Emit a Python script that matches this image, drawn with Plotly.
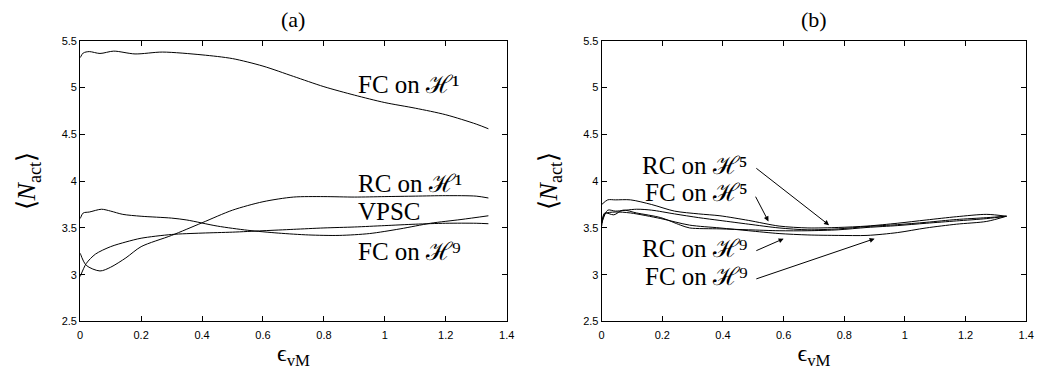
import plotly.graph_objects as go

# ---------------- Data ----------------
# Panel (a)
a_fc_h1_x = [0, 0.01, 0.03, 0.065, 0.11, 0.18, 0.27, 0.4, 0.5, 0.6, 0.7, 0.8, 0.9, 1.0, 1.1, 1.2, 1.3, 1.34]
a_fc_h1_y = [5.32, 5.37, 5.385, 5.365, 5.39, 5.36, 5.38, 5.35, 5.31, 5.23, 5.12, 5.01, 4.92, 4.84, 4.78, 4.71, 4.61, 4.56]

a_rc_h1_x = [0, 0.02, 0.065, 0.1, 0.15, 0.2, 0.3, 0.4, 0.5, 0.6, 0.7, 0.8, 0.9, 1.0, 1.1, 1.2, 1.3, 1.34]
a_rc_h1_y = [3.23, 3.10, 3.04, 3.08, 3.18, 3.30, 3.42, 3.555, 3.69, 3.78, 3.83, 3.835, 3.83, 3.835, 3.84, 3.845, 3.84, 3.82]

a_vpsc_x = [0, 0.02, 0.05, 0.1, 0.15, 0.2, 0.3, 0.4, 0.5, 0.6, 0.7, 0.8, 0.9, 1.0, 1.1, 1.2, 1.3, 1.34]
a_vpsc_y = [2.98, 3.12, 3.22, 3.30, 3.35, 3.39, 3.43, 3.445, 3.455, 3.47, 3.485, 3.50, 3.51, 3.525, 3.54, 3.55, 3.55, 3.545]

a_fc_h9_x = [0, 0.01, 0.03, 0.07, 0.1, 0.14, 0.2, 0.3, 0.35, 0.45, 0.55, 0.65, 0.75, 0.85, 0.95, 1.05, 1.15, 1.25, 1.34]
a_fc_h9_y = [3.60, 3.66, 3.67, 3.70, 3.68, 3.645, 3.625, 3.605, 3.585, 3.52, 3.475, 3.445, 3.425, 3.42, 3.44, 3.49, 3.55, 3.59, 3.63]

# Panel (b)
b_rc_h5_x = [0, 0.02, 0.045, 0.095, 0.165, 0.24, 0.32, 0.39, 0.485, 0.585, 0.68, 0.78, 0.875, 0.975, 1.07, 1.17, 1.27, 1.335]
b_rc_h5_y = [3.75, 3.80, 3.80, 3.80, 3.75, 3.68, 3.65, 3.63, 3.58, 3.52, 3.50, 3.505, 3.52, 3.55, 3.585, 3.62, 3.645, 3.625]

b_fc_h5_x = [0, 0.02, 0.045, 0.115, 0.165, 0.24, 0.32, 0.39, 0.485, 0.585, 0.68, 0.78, 0.875, 0.975, 1.07, 1.17, 1.27, 1.335]
b_fc_h5_y = [3.55, 3.69, 3.68, 3.70, 3.69, 3.65, 3.61, 3.58, 3.54, 3.50, 3.48, 3.49, 3.515, 3.535, 3.56, 3.59, 3.61, 3.625]

b_rc_h9_x = [0, 0.01, 0.04, 0.07, 0.115, 0.195, 0.26, 0.29, 0.39, 0.485, 0.585, 0.68, 0.78, 0.875, 0.975, 1.07, 1.17, 1.27, 1.335]
b_rc_h9_y = [3.55, 3.66, 3.64, 3.69, 3.66, 3.61, 3.53, 3.50, 3.49, 3.48, 3.47, 3.47, 3.48, 3.505, 3.525, 3.55, 3.575, 3.60, 3.625]

b_fc_h9_x = [0, 0.01, 0.045, 0.095, 0.195, 0.29, 0.39, 0.485, 0.585, 0.68, 0.78, 0.875, 0.975, 1.07, 1.17, 1.27, 1.335]
b_fc_h9_y = [3.52, 3.65, 3.67, 3.66, 3.60, 3.53, 3.50, 3.47, 3.44, 3.425, 3.42, 3.42, 3.45, 3.50, 3.54, 3.57, 3.625]

x_ticks = [0, 0.2, 0.4, 0.6, 0.8, 1, 1.2, 1.4]
x_tick_text = ["0", "0.2", "0.4", "0.6", "0.8", "1", "1.2", "1.4"]
y_ticks = [2.5, 3, 3.5, 4, 4.5, 5, 5.5]
y_tick_text = ["2.5", "3", "3.5", "4", "4.5", "5", "5.5"]

# ---------------- Figure ----------------
fig = go.Figure()
line = dict(color="black", width=1, shape="spline", smoothing=0.8)

for xs, ys in [(a_fc_h1_x, a_fc_h1_y), (a_rc_h1_x, a_rc_h1_y), (a_vpsc_x, a_vpsc_y), (a_fc_h9_x, a_fc_h9_y)]:
    fig.add_trace(go.Scatter(x=xs, y=ys, mode="lines", line=line, xaxis="x", yaxis="y", showlegend=False, hoverinfo="skip"))
for xs, ys in [(b_rc_h5_x, b_rc_h5_y), (b_fc_h5_x, b_fc_h5_y), (b_rc_h9_x, b_rc_h9_y), (b_fc_h9_x, b_fc_h9_y)]:
    fig.add_trace(go.Scatter(x=xs, y=ys, mode="lines", line=line, xaxis="x2", yaxis="y2", showlegend=False, hoverinfo="skip"))

W, H = 1054, 372
top, bottom = 36, 326
ydom = [1 - bottom / H, 1 - top / H]
xdom1 = [78 / W, 509 / W]
xdom2 = [605 / W, 1034 / W]

tickfont = dict(family="Liberation Sans, Arial, sans-serif", size=11, color="black")
serif = "Liberation Serif, Times New Roman, Times, serif"

def xa(dom, anchor):
    return dict(domain=dom, anchor=anchor, range=[0, 1.4], tickvals=x_ticks, ticktext=x_tick_text,
                ticks="inside", ticklen=5, tickcolor="black", mirror="ticks", showline=True, linecolor="black", linewidth=1,
                showgrid=False, zeroline=False, tickfont=tickfont, ticklabelstandoff=3,
                title=dict(text="ϵ<sub>vM</sub>", font=dict(family=serif, size=24, color="black"), standoff=4))

def ya(anchor):
    return dict(domain=ydom, anchor=anchor, range=[2.5, 5.5], tickvals=y_ticks, ticktext=y_tick_text,
                ticks="inside", ticklen=5, tickcolor="black", mirror="ticks", showline=True, linecolor="black", linewidth=1,
                showgrid=False, zeroline=False, tickfont=tickfont,
                title=dict(text="⟨<i>N</i><sub>act</sub>⟩", font=dict(family=serif, size=26, color="black"), standoff=18))

fig.update_layout(
    width=W, height=H, margin=dict(l=0, r=0, t=0, b=0),
    paper_bgcolor="white", plot_bgcolor="white",
    xaxis=xa(xdom1, "y"), yaxis=ya("x"),
    xaxis2=xa(xdom2, "y2"), yaxis2=ya("x2"),
)

annfont = dict(family=serif, size=25, color="black")
anns = []
# Panel titles
for lab, dom in [("(a)", xdom1), ("(b)", xdom2)]:
    anns.append(dict(text=lab, x=(dom[0] + dom[1]) / 2, y=1 - 14 / H, xref="paper", yref="paper",
                     xanchor="center", yanchor="middle", showarrow=False,
                     font=dict(family=serif, size=22, color="black")))

# Panel (a) labels
for txt, yv in [("FC on ℋ¹", 5.03), ("RC on ℋ¹", 3.975), ("VPSC", 3.68), ("FC on ℋ⁹", 3.25)]:
    anns.append(dict(text=txt, x=0.905, y=yv, xref="x", yref="y", xanchor="left", yanchor="middle", showarrow=False, font=annfont))

# Panel (b) labels with arrows
b_labels = [("RC on ℋ⁵", 4.17, 0.75, 3.53, 4.15),
            ("FC on ℋ⁵", 3.88, 0.55, 3.57, 3.85),
            ("RC on ℋ⁹", 3.28, 0.60, 3.385, 3.25),
            ("FC on ℋ⁹", 2.98, 0.90, 3.385, 2.95)]
for txt, yv, hx, hy, ty in b_labels:
    anns.append(dict(text=txt, x=0.49, y=yv, xref="x2", yref="y2", xanchor="right", yanchor="middle", showarrow=False, font=annfont))
    anns.append(dict(text="", x=hx, y=hy, xref="x2", yref="y2", ax=0.505, ay=ty, axref="x2", ayref="y2",
                     showarrow=True, arrowhead=2, arrowsize=1, arrowwidth=1, arrowcolor="black", standoff=0, startstandoff=0))

fig.update_layout(annotations=anns)
fig.write_html("out.html")
